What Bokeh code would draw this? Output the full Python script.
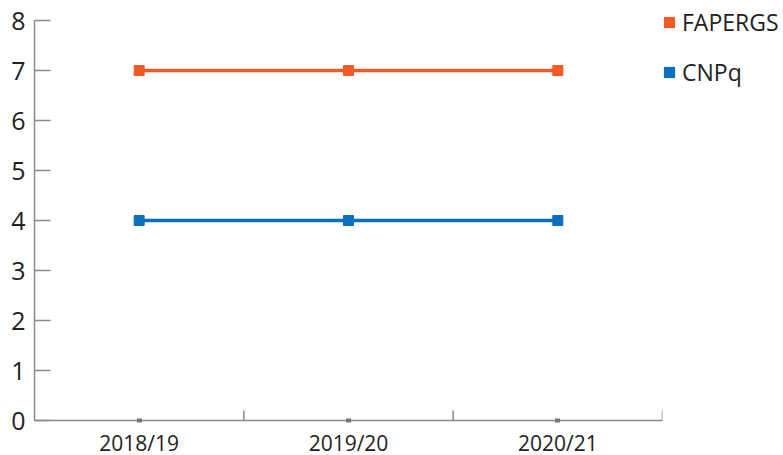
from bokeh.plotting import figure
from bokeh.models import FactorRange, Range1d, Legend, LegendItem, ColumnDataSource, FixedTicker
from bokeh.transform import dodge
from bokeh.embed import file_html
from bokeh.resources import INLINE

years = ["2018/19", "2019/20", "2020/21"]
fapergs = [7, 7, 7]
cnpq = [4, 4, 4]
y_ticks = [0, 1, 2, 3, 4, 5, 6, 7, 8]
series_names = ["FAPERGS", "CNPq"]

ORANGE = "#F15A24"
BLUE = "#0A6FC0"
AXIS = "#8a8a8a"
FONT = "Open Sans"

p = figure(frame_width=628, frame_height=400, x_range=FactorRange(*years, range_padding=0),
           y_range=Range1d(0, 8), output_backend="svg", toolbar_location=None,
           min_border_left=34, min_border_right=121, min_border_top=20, min_border_bottom=30)
p.outline_line_color = None
p.xgrid.visible = False
p.ygrid.visible = False

src = ColumnDataSource(dict(x=years, f=fapergs, c=cnpq))
p.line("x", "f", source=src, color=ORANGE, line_width=3.5)
p.scatter("x", "f", source=src, marker="square", size=10, color=ORANGE)
p.line("x", "c", source=src, color=BLUE, line_width=3.5)
p.scatter("x", "c", source=src, marker="square", size=10, color=BLUE)

# legend-only swatches (hidden renderers)
lf = p.rect(x=years[:1], y=fapergs[:1], width=0.01, height=0.01, fill_color=ORANGE, line_color=None, visible=False)
lc = p.rect(x=years[:1], y=cnpq[:1], width=0.01, height=0.01, fill_color=BLUE, line_color=None, visible=False)

# category boundary ticks
bsrc = ColumnDataSource(dict(x=years, y0=[0, 0, 0], y1=[0.2, 0.2, 0.2]))
p.segment(x0=dodge("x", 0.5, range=p.x_range), x1=dodge("x", 0.5, range=p.x_range),
          y0="y0", y1="y1", source=bsrc, line_color=AXIS, line_width=1.5)

xa = p.xaxis[0]
xa.axis_line_color = AXIS
xa.axis_line_width = 1.5
xa.major_tick_line_color = "#777777"
xa.major_tick_line_width = 5
xa.major_tick_in = 2
xa.major_tick_out = 2
xa.major_label_standoff = 6
xa.major_label_text_font = FONT
xa.major_label_text_font_size = "21px"
xa.major_label_text_color = "#222222"

ya = p.yaxis[0]
ya.ticker = FixedTicker(ticks=y_ticks)
ya.axis_line_color = AXIS
ya.axis_line_width = 1.5
ya.major_tick_line_color = AXIS
ya.major_tick_line_width = 1.5
ya.major_tick_in = 16
ya.major_tick_out = 0
ya.minor_tick_line_color = None
ya.major_label_standoff = 9
ya.major_label_text_font = FONT
ya.major_label_text_font_size = "25px"
ya.major_label_text_color = "#222222"

legend = Legend(items=[LegendItem(label=series_names[0], renderers=[lf]),
                       LegendItem(label=series_names[1], renderers=[lc])],
                location=(0, 332), orientation="vertical",
                glyph_width=14, glyph_height=14, label_height=30, label_standoff=6, spacing=18,
                padding=0, margin=0, border_line_color=None, background_fill_alpha=0,
                inactive_fill_alpha=0,
                label_text_font=FONT, label_text_font_size="23px", label_text_color="#222222")
p.add_layout(legend, "right")

open("out.html", "w").write(file_html(p, INLINE))
